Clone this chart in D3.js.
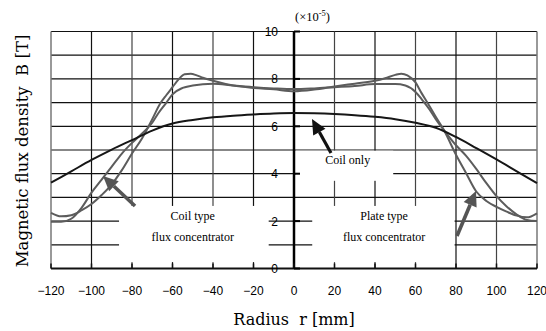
<!DOCTYPE html>
<html>
<head>
<meta charset="utf-8">
<script src="https://cdn.jsdelivr.net/npm/d3@7"></script>
<style>
  body { margin: 0; background: #fff; }
  svg { display: block; }
  text { white-space: pre; }
</style>
</head>
<body>
<svg id="chart" width="546" height="331"></svg>
<script>
// radius [mm] and flux density (x1e-5 T)
var coilOnlyR = [-120, -110, -100, -90, -80, -70, -60, -50, -40, -30, -20, -10, 0, 10, 20, 30, 40, 50, 60, 70, 80, 90, 100, 110, 120];
var coilOnlyB = [3.62, 4.1, 4.58, 5.02, 5.42, 5.82, 6.12, 6.27, 6.38, 6.45, 6.5, 6.54, 6.56, 6.55, 6.52, 6.47, 6.4, 6.3, 6.15, 5.94, 5.55, 5.08, 4.6, 4.1, 3.6];

// peaked curve (ends with a small dip)
var peakR = [-120, -115, -110, -105, -100, -95, -90, -85, -80, -75, -70, -66, -63, -60, -57, -54, -51, -48, -45, -40, -30, -20, -10, 0, 10, 20, 30, 40, 45, 50, 53, 56, 60, 63, 66, 70, 74, 80, 85, 90, 95, 100, 105, 110, 115, 120];
var peakB = [2.35, 2.2, 2.25, 2.45, 2.72, 3.1, 3.55, 4.15, 4.85, 5.5, 6.3, 6.97, 7.32, 7.65, 7.98, 8.2, 8.22, 8.15, 8.05, 7.92, 7.72, 7.62, 7.56, 7.48, 7.55, 7.68, 7.8, 7.92, 8.03, 8.17, 8.22, 8.15, 7.85, 7.4, 6.98, 6.4, 5.84, 4.8, 4.02, 3.25, 2.85, 2.6, 2.4, 2.23, 2.16, 2.33];

// flat-topped curve (ends flat near 2)
var flatR = [-120, -115, -110, -105, -100, -95, -90, -85, -80, -75, -70, -67, -63, -60, -55, -50, -40, -30, -20, -10, 0, 10, 20, 30, 40, 50, 55, 60, 63, 67, 70, 74, 80, 85, 90, 95, 100, 105, 110, 115, 120];
var flatB = [1.97, 1.97, 2.1, 2.55, 3.2, 3.75, 4.3, 4.85, 5.3, 5.7, 6.15, 6.55, 7.0, 7.35, 7.62, 7.72, 7.8, 7.72, 7.65, 7.6, 7.57, 7.6, 7.65, 7.7, 7.78, 7.78, 7.72, 7.45, 7.15, 6.7, 6.3, 5.84, 5.2, 4.75, 4.2, 3.6, 3.05, 2.62, 2.28, 2.05, 2.0];

var xTicks = [-120, -100, -80, -60, -40, -20, 0, 20, 40, 60, 80, 100, 120];
var yTicks = [0, 2, 4, 6, 8, 10];
var yGrid = [1, 2, 3, 4, 5, 6, 7, 8, 9, 10];

var svg = d3.select("#chart");
var x = d3.scaleLinear().domain([-120, 120]).range([51, 537]);
var y = d3.scaleLinear().domain([0, 10]).range([268.5, 31.5]);

// grid
svg.append("g").selectAll("line").data(yGrid).enter().append("line")
    .attr("x1", x(-120)).attr("x2", x(120))
    .attr("y1", d => y(d)).attr("y2", d => y(d))
    .attr("stroke", "#111").attr("stroke-width", 1.2);
svg.append("g").selectAll("line").data(xTicks.slice(1, -1).filter(d => d !== 0)).enter().append("line")
    .attr("x1", d => x(d)).attr("x2", d => x(d))
    .attr("y1", y(0)).attr("y2", y(10))
    .attr("stroke", (d, i) => i % 2 ? "#444" : "#111").attr("stroke-width", 1.2);
// side borders
svg.append("g").selectAll("line").data([-120, 120]).enter().append("line")
    .attr("x1", d => x(d)).attr("x2", d => x(d))
    .attr("y1", y(0)).attr("y2", y(10))
    .attr("stroke", "#777").attr("stroke-width", 1.5);

// white label boxes hiding the grid
var boxes = [
    {r0: 1, r1: 49, b0: 3.7, b1: 4.97},
    {r0: -86.4, r1: -12.5, b0: 0.27, b1: 2.64},
    {r0: 9, r1: 79.3, b0: 0.27, b1: 2.64}
];
svg.append("g").selectAll("rect").data(boxes).enter().append("rect")
    .attr("x", d => x(d.r0)).attr("width", d => x(d.r1) - x(d.r0))
    .attr("y", d => y(d.b1)).attr("height", d => y(d.b0) - y(d.b1))
    .attr("fill", "#fff");

// axes
svg.append("line").attr("x1", x(-120)).attr("x2", x(120)).attr("y1", y(0)).attr("y2", y(0))
    .attr("stroke", "#111").attr("stroke-width", 2);
svg.append("line").attr("x1", x(0)).attr("x2", x(0)).attr("y1", y(0)).attr("y2", y(10))
    .attr("stroke", "#000").attr("stroke-width", 2.5);
svg.append("g").selectAll("line").data(xTicks).enter().append("line")
    .attr("x1", d => x(d)).attr("x2", d => x(d))
    .attr("y1", y(0)).attr("y2", y(0) - 5)
    .attr("stroke", "#111").attr("stroke-width", 1.5);
svg.append("g").selectAll("line").data(yTicks).enter().append("line")
    .attr("x1", x(0)).attr("x2", x(0) + 6)
    .attr("y1", d => y(d)).attr("y2", d => y(d))
    .attr("stroke", "#000").attr("stroke-width", 2);

// tick labels
svg.append("g").selectAll("text").data(xTicks).enter().append("text")
    .attr("x", d => x(d)).attr("y", 295)
    .attr("text-anchor", "middle")
    .style("font", "12px 'Liberation Sans', Arial, sans-serif")
    .text(d => d3.format("d")(d));
svg.append("g").selectAll("text").data(yTicks).enter().append("text")
    .attr("x", x(0) - 16).attr("y", d => y(d) + 4.5)
    .attr("text-anchor", "end")
    .style("font", "12px 'Liberation Sans', Arial, sans-serif")
    .text(d => d);

// axis titles
svg.append("text").attr("x", x(0)).attr("y", 325).attr("text-anchor", "middle")
    .style("font", "16px 'DejaVu Serif', serif")
    .text("Radius  r [mm]");
svg.append("text").attr("transform", "translate(28,151) rotate(-90)").attr("text-anchor", "middle")
    .style("font", "16.5px 'DejaVu Serif', serif")
    .text("Magnetic flux density  B [T]");
var unit = svg.append("text").attr("x", 295).attr("y", 21)
    .style("font", "12.5px 'Liberation Serif', serif");
unit.append("tspan").text("(×10");
unit.append("tspan").attr("dy", -5).style("font-size", "8.5px").text("-5");
unit.append("tspan").attr("dy", 5).text(")");

// curves
var line = d3.line().x(d => x(d[0])).y(d => y(d[1])).curve(d3.curveMonotoneX);
var series = [
    {r: flatR, b: flatB, color: "#5c5c5c"},
    {r: peakR, b: peakB, color: "#5c5c5c"},
    {r: coilOnlyR, b: coilOnlyB, color: "#161616"}
];
series.forEach(s => {
    svg.append("path")
        .datum(d3.zip(s.r, s.b))
        .attr("d", line)
        .attr("fill", "none")
        .attr("stroke", s.color)
        .attr("stroke-width", 2);
});

// arrows (pixel positions of annotations)
var arrows = [
    {x1: 331, y1: 153, x2: 312, y2: 119, color: "#111", w: 3.2},
    {x1: 135, y1: 206, x2: 103, y2: 176, color: "#555", w: 3.6},
    {x1: 457, y1: 236, x2: 476, y2: 191, color: "#555", w: 3.6}
];
arrows.forEach(a => {
    var ang = Math.atan2(a.y2 - a.y1, a.x2 - a.x1), L = 15, W = 7;
    var bx = a.x2 - L * Math.cos(ang), by = a.y2 - L * Math.sin(ang);
    svg.append("line").attr("x1", a.x1).attr("y1", a.y1).attr("x2", bx).attr("y2", by)
        .attr("stroke", a.color).attr("stroke-width", a.w);
    var px = -Math.sin(ang) * W, py = Math.cos(ang) * W;
    svg.append("path")
        .attr("d", "M" + a.x2 + "," + a.y2 + "L" + (bx + px) + "," + (by + py) + "L" + (bx - px) + "," + (by - py) + "Z")
        .attr("fill", a.color);
});

// annotation labels
var notes = [
    {r: 26.5, b: 4.4, text: "Coil only"},
    {r: -50, b: 2.05, text: "Coil type"},
    {r: -50, b: 1.15, text: "flux concentrator"},
    {r: 44.5, b: 2.05, text: "Plate type"},
    {r: 44.5, b: 1.15, text: "flux concentrator"}
];
svg.append("g").selectAll("text").data(notes).enter().append("text")
    .attr("x", d => x(d.r)).attr("y", d => y(d.b))
    .attr("text-anchor", "middle")
    .style("font", "12px 'Liberation Serif', 'Times New Roman', serif")
    .text(d => d.text);
</script>
</body>
</html>
